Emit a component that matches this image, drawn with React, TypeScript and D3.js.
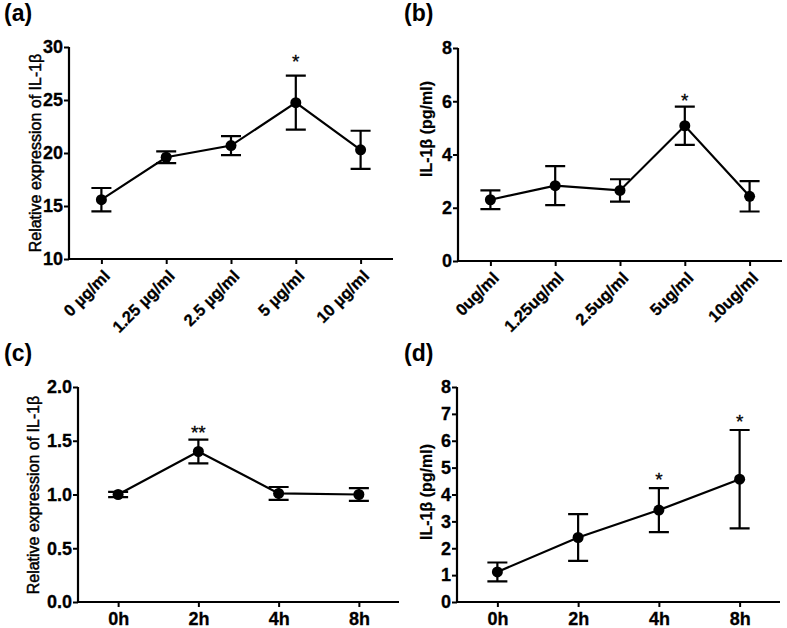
import React, { useEffect, useRef } from 'react';
import * as d3 from 'd3';

// Panel (a): relative expression, dose series
const doseLabelsA = ["0 µg/ml", "1.25 µg/ml", "2.5 µg/ml", "5 µg/ml", "10 µg/ml"];
const meanA = [15.6, 19.6, 20.7, 24.75, 20.3];
const errA = [1.1, 0.55, 0.9, 2.55, 1.8];
const starsA = ["", "", "", "*", ""];
const ticksA = [10, 15, 20, 25, 30];

// Panel (b): IL-1β pg/ml, dose series
const doseLabelsB = ["0ug/ml", "1.25ug/ml", "2.5ug/ml", "5ug/ml", "10ug/ml"];
const meanB = [2.3, 2.83, 2.65, 5.08, 2.43];
const errB = [0.35, 0.73, 0.42, 0.72, 0.57];
const starsB = ["", "", "", "*", ""];
const ticksB = [0, 2, 4, 6, 8];

// Panel (c): relative expression, time series
const timeLabels = ["0h", "2h", "4h", "8h"];
const meanC = [1.0, 1.4, 1.01, 1.0];
const errC = [0.025, 0.11, 0.06, 0.06];
const starsC = ["", "**", "", ""];
const ticksC = [0, 0.5, 1.0, 1.5, 2.0];

// Panel (d): IL-1β pg/ml, time series
const meanD = [1.12, 2.4, 3.42, 4.57];
const errD = [0.35, 0.87, 0.82, 1.83];
const starsD = ["", "", "*", "*"];
const ticksD = [0, 1, 2, 3, 4, 5, 6, 7, 8];

const FONT = "'Liberation Sans', Arial, Helvetica, sans-serif";

interface Panel {
  tag: string;
  tagX: number;
  tagY: number;
  left: number;
  right: number;
  top: number;
  bottom: number;
  labels: string[];
  mean: number[];
  err: number[];
  stars: string[];
  ticks: number[];
  tickFmt: (d: number) => string;
  yLabel: string;
  yLabelBold: boolean;
  yLabelX: number;
  yLabelY: number;
  rotated: boolean;
  starGap: number;
}

const panels: Panel[] = [
  {
    tag: "(a)", tagX: 4, tagY: 21, left: 69, right: 393, top: 47, bottom: 259,
    labels: doseLabelsA, mean: meanA, err: errA, stars: starsA, ticks: ticksA,
    tickFmt: d3.format("d"), yLabel: "Relative expression of IL-1β", yLabelBold: false,
    yLabelX: 41, yLabelY: 153, rotated: true, starGap: 8,
  },
  {
    tag: "(b)", tagX: 404, tagY: 21, left: 458, right: 782, top: 48, bottom: 261,
    labels: doseLabelsB, mean: meanB, err: errB, stars: starsB, ticks: ticksB,
    tickFmt: d3.format("d"), yLabel: "IL-1β (pg/ml)", yLabelBold: true,
    yLabelX: 432, yLabelY: 129, rotated: true, starGap: 0,
  },
  {
    tag: "(c)", tagX: 4, tagY: 361, left: 78, right: 399, top: 387, bottom: 602,
    labels: timeLabels, mean: meanC, err: errC, stars: starsC, ticks: ticksC,
    tickFmt: d3.format(".1f"), yLabel: "Relative expression of IL-1β", yLabelBold: false,
    yLabelX: 39, yLabelY: 495, rotated: false, starGap: 1,
  },
  {
    tag: "(d)", tagX: 404, tagY: 361, left: 457, right: 780, top: 387, bottom: 602,
    labels: timeLabels, mean: meanD, err: errD, stars: starsD, ticks: ticksD,
    tickFmt: d3.format("d"), yLabel: "IL-1β (pg/ml)", yLabelBold: true,
    yLabelX: 432, yLabelY: 492, rotated: false, starGap: 2,
  },
];

export default function App() {
  const svgRef = useRef<SVGSVGElement>(null);

  useEffect(() => {
    if (!svgRef.current) return;
    const svg = d3.select(svgRef.current);
    svg.selectAll("*").remove();

    panels.forEach((p) => {
      const g = svg.append("g").attr("font-family", FONT);

      const x = d3.scalePoint<string>()
        .domain(p.labels)
        .range([p.left, p.right])
        .padding(0.5);

      const y = d3.scaleLinear()
        .domain([p.ticks[0], p.ticks[p.ticks.length - 1]])
        .range([p.bottom, p.top]);

      // panel tag
      g.append("text")
        .attr("x", p.tagX)
        .attr("y", p.tagY)
        .attr("font-size", 23)
        .attr("font-weight", "bold")
        .text(p.tag);

      // y axis
      const yAxis = g.append("g")
        .attr("transform", `translate(${p.left},0)`)
        .call(d3.axisLeft(y).tickValues(p.ticks).tickFormat((d) => p.tickFmt(d as number)).tickSize(5).tickPadding(1));
      yAxis.select(".domain").attr("stroke-width", 2.2).attr("d", `M0,${p.top}V${p.bottom + 1}`);
      yAxis.selectAll(".tick line").attr("stroke-width", 2);
      yAxis.selectAll(".tick text")
        .attr("font-size", 18)
        .attr("font-weight", "bold")
        .attr("font-family", FONT)
        .attr("fill", "#000")
        .attr("stroke", "#000")
        .attr("stroke-width", 0.3);

      // x axis
      const xAxis = g.append("g")
        .attr("transform", `translate(0,${p.bottom})`)
        .call(d3.axisBottom(x).tickSize(5).tickPadding(3));
      xAxis.select(".domain").attr("stroke-width", 2.2).attr("d", `M${p.left - 1},0H${p.right}`);
      xAxis.selectAll(".tick line").attr("stroke-width", 2);
      const xt = xAxis.selectAll<SVGTextElement, string>(".tick text")
        .attr("font-size", p.rotated ? 16.5 : 18)
        .attr("font-weight", "bold")
        .attr("font-family", FONT)
        .attr("fill", "#000")
        .attr("stroke", "#000")
        .attr("stroke-width", 0.3);
      if (p.rotated) {
        xt.attr("text-anchor", "end")
          .attr("dy", "0.35em")
          .attr("transform", "translate(5,14) rotate(-45)")
          .attr("y", 0)
          .attr("x", 0);
      } else {
        xt.attr("dy", "0.85em");
      }

      // y label
      g.append("text")
        .attr("transform", `translate(${p.yLabelX},${p.yLabelY}) rotate(-90)`)
        .attr("text-anchor", "middle")
        .attr("font-size", 16)
        .attr("font-weight", p.yLabelBold ? "bold" : "normal")
        .attr("stroke", "#000")
        .attr("stroke-width", p.yLabelBold ? 0.2 : 0.45)
        .text(p.yLabel);

      const idx = d3.range(p.mean.length);

      // connecting line
      const line = d3.line<number>()
        .x((i) => x(p.labels[i]) as number)
        .y((i) => y(p.mean[i]));
      g.append("path")
        .datum(idx)
        .attr("fill", "none")
        .attr("stroke", "#000")
        .attr("stroke-width", 2.2)
        .attr("d", line);

      // error bars
      const cap = 10;
      idx.forEach((i) => {
        const cx = x(p.labels[i]) as number;
        const yHi = y(p.mean[i] + p.err[i]);
        const yLo = y(p.mean[i] - p.err[i]);
        g.append("path")
          .attr("fill", "none")
          .attr("stroke", "#000")
          .attr("stroke-width", 2.2)
          .attr("d", `M${cx},${yHi}V${yLo}M${cx - cap},${yHi}H${cx + cap}M${cx - cap},${yLo}H${cx + cap}`);
      });

      // points
      g.selectAll(".pt")
        .data(idx)
        .enter().append("circle")
        .attr("cx", (i) => x(p.labels[i]) as number)
        .attr("cy", (i) => y(p.mean[i]))
        .attr("r", 5.5)
        .attr("fill", "#000");

      // significance marks
      idx.filter((i) => p.stars[i]).forEach((i) => {
        g.append("text")
          .attr("x", x(p.labels[i]) as number)
          .attr("y", y(p.mean[i] + p.err[i]) - p.starGap)
          .attr("text-anchor", "middle")
          .attr("font-size", 19)
          .attr("stroke", "#000")
          .attr("stroke-width", 0.3)
          .text(p.stars[i]);
      });
    });
  }, []);

  return (
    <svg
      ref={svgRef}
      width={787}
      height={628}
      viewBox="0 0 787 628"
      style={{ position: 'absolute', left: 0, top: 0, background: '#fff' }}
    />
  );
}
